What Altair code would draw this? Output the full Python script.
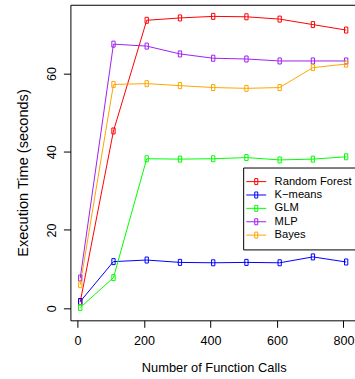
import altair as alt
import pandas as pd

calls = [8, 108, 208, 308, 408, 508, 608, 708, 808]
methods = ["Random Forest", "K\u2212means", "GLM", "MLP", "Bayes"]
colors = ["#FF0000", "#0000FF", "#00FF00", "#A020F0", "#FFA500"]
random_forest = [1.6, 45.3, 73.6, 74.2, 74.6, 74.5, 73.9, 72.5, 71.1]
kmeans = [1.7, 11.9, 12.3, 11.7, 11.6, 11.7, 11.6, 13.1, 11.8]
glm = [0.15, 7.8, 38.2, 38.1, 38.2, 38.5, 37.9, 38.1, 38.7]
mlp = [7.7, 67.5, 67.0, 65.0, 63.9, 63.7, 63.2, 63.2, 63.2]
bayes = [6.0, 57.2, 57.4, 56.9, 56.4, 56.2, 56.4, 61.5, 62.4]
x_ticks = [0, 200, 400, 600, 800]
y_ticks = [0, 20, 40, 60]

series = [random_forest, kmeans, glm, mlp, bayes]
rows = []
for i, (name, vals) in enumerate(zip(methods, series)):
    for c, v in zip(calls, vals):
        rows.append({"method": name, "order": i, "calls": c, "time": v})
df = pd.DataFrame(rows)

FONT = "Liberation Sans"
legend_symbol = "M-2,0H2M-0.3,-0.6H0.3V0.6H-0.3Z"
point_shape = "M-0.55,-1H0.55V1H-0.55Z"

x = alt.X("calls:Q",
          scale=alt.Scale(domain=[-21.6, 834.6], nice=False, zero=False),
          axis=alt.Axis(values=x_ticks, title="Number of Function Calls",
                        domain=False, grid=False, tickSize=7, tickColor="black",
                        labelFont=FONT, labelFontSize=12.6, labelColor="black",
                        labelBaseline="alphabetic", labelPadding=17.5,
                        labelFlush=False, labelOverlap=False,
                        titleFont=FONT, titleFontSize=12.85, titleFontWeight="normal",
                        titleColor="black", titleX=143.5, titleY=51,
                        titleBaseline="alphabetic", titleAlign="center"))
y = alt.Y("time:Q",
          scale=alt.Scale(domain=[-3.11, 77.57], nice=False, zero=False),
          axis=alt.Axis(values=y_ticks, title="Execution Time (seconds)",
                        domain=False, grid=False, tickSize=7, tickColor="black",
                        labelFont=FONT, labelFontSize=12.6, labelColor="black",
                        labelAngle=270, labelAlign="center", labelBaseline="alphabetic",
                        labelPadding=8.2, labelFlush=False, labelOverlap=False,
                        titleFont=FONT, titleFontSize=14.6, titleFontWeight="normal",
                        titleColor="black", titleAngle=270, titleX=-43, titleY=168,
                        titleBaseline="alphabetic", titleAlign="center"))
color = alt.Color("method:N",
                  scale=alt.Scale(domain=methods, range=colors),
                  legend=alt.Legend(title=None, orient="none", legendX=173, legendY=163,
                                    strokeColor="black", fillColor="white", padding=8.5,
                                    cornerRadius=0, symbolType=legend_symbol,
                                    symbolSize=100, symbolStrokeWidth=1,
                                    symbolOffset=-1, labelOffset=12.8,
                                    labelFont=FONT, labelFontSize=11.2, labelColor="black",
                                    rowPadding=1.4, labelLimit=200))

base = alt.Chart(df).encode(x=x, y=y, color=color, order=alt.Order("order:Q"))
lines = base.mark_line(strokeWidth=1)
points = base.mark_point(shape=point_shape, size=36, filled=False, strokeWidth=1, opacity=1)

chart = alt.layer(lines, points).properties(
    width=285, height=316,
    autosize=alt.AutoSizeParams(type="none"),
    padding={"left": 70.5, "top": 4.5, "right": 0, "bottom": 58.5},
    background="white",
).configure_view(stroke="black", strokeWidth=1)

chart.save("out.html", embed_options={"renderer": "svg", "actions": False})
